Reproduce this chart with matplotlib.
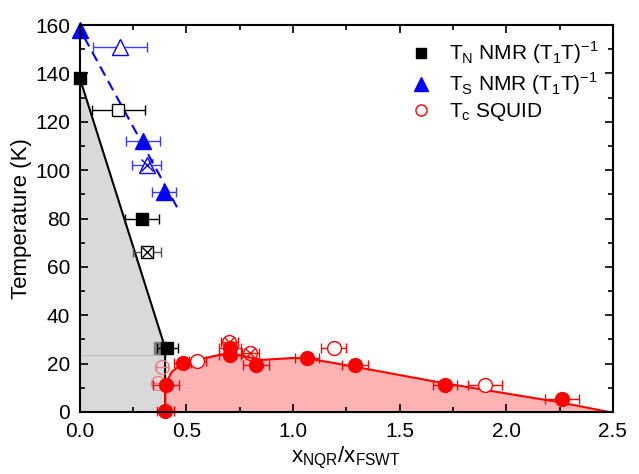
import matplotlib
matplotlib.use('Agg')
import matplotlib.pyplot as plt
from matplotlib.ticker import MultipleLocator

plt.rcParams['font.family'] = ['Liberation Sans', 'DejaVu Sans']
plt.rcParams['mathtext.fontset'] = 'custom'
plt.rcParams['mathtext.rm'] = 'Liberation Sans'

# T_N from NMR (filled / open / crossed squares)
tn_x = [0.0, 0.29, 0.41]
tn_y = [138, 80, 26.5]
tn_err = [0.0, 0.08, 0.05]
tn_open_x = [0.18]
tn_open_y = [125]
tn_open_err = [0.125]
tn_cross_x = [0.314]
tn_cross_y = [66]
tn_cross_err = [0.065]

# T_S from NMR (triangles)
ts_x = [0.0, 0.295, 0.394]
ts_y = [158, 112, 91]
ts_err = [0.0, 0.08, 0.058]
ts_open_x = [0.188]
ts_open_y = [151]
ts_open_err = [0.125]
ts_cross_x = [0.314]
ts_cross_y = [102]
ts_cross_err = [0.068]

# Tc SQUID (circles)
tc_x = [0.40, 0.403, 0.483, 0.704, 0.704, 0.826, 1.065, 1.29, 1.712, 2.26]
tc_y = [0.5, 11, 20.3, 26.5, 23.5, 19.4, 22.3, 19.4, 11.2, 5.4]
tc_err = [0.04, 0.06, 0.04, 0.05, 0.05, 0.06, 0.055, 0.06, 0.057, 0.08]
tc_open_x = [0.55, 1.19, 1.90]
tc_open_y = [21, 26.4, 11.2]
tc_open_err = [0.04, 0.057, 0.08]
tc_cross_x = [0.70, 0.80]
tc_cross_y = [29.0, 24.3]
tc_cross_err = [0.04, 0.04]
tc_faded_x = [0.366, 0.385]
tc_faded_y = [12, 18.6]

# guide lines
afm_x = [0.0, 0.0, 0.40, 0.40]
afm_y = [0, 138, 26.5, 0]
ts_line_x = [0.02, 0.46]
ts_line_y = [155, 84]
sc_x = [0.40, 0.40, 0.43, 0.48, 0.6, 0.7, 0.85, 1.0, 1.06, 1.3, 1.7, 2.25, 2.48]
sc_y = [0, 11, 16.5, 20, 22.5, 24.5, 21.5, 22.3, 22.3, 18.5, 12, 4, 0]

fig, ax = plt.subplots(figsize=(6.39, 4.74), dpi=100)
fig.subplots_adjust(left=0.125, right=0.959, bottom=0.131, top=0.947)

ax.fill(afm_x, afm_y, color='#d9d9d9', zorder=1)
ax.plot([0, 0.40], [23.5, 23.5], color='#bfbfbf', lw=0.8, zorder=1)
ax.plot(afm_x[1:], afm_y[1:], color='black', lw=1.5, zorder=2)
ax.fill_between(sc_x, sc_y, 0, color='#ffb3b3', zorder=1)
ax.plot(sc_x, sc_y, color='red', lw=1.5, zorder=2)
ax.plot(ts_line_x, ts_line_y, color='blue', lw=1.5, ls=(0, (5, 3)), zorder=2)

ebkw = dict(ls='none', capsize=3.5, elinewidth=1, capthick=1, zorder=4)

# squares
ax.errorbar(tn_x, tn_y, xerr=tn_err, marker='s', ms=9, color='black', ecolor='black',
            label=r'T$_\mathregular{N}$ NMR (T$_\mathregular{1}$T)$^\mathregular{-1}$', **ebkw)
ax.errorbar(tn_open_x, tn_open_y, xerr=tn_open_err, marker='s', ms=9, mfc='white',
            mec='black', ecolor='black', **ebkw)
ax.errorbar(tn_cross_x, tn_cross_y, xerr=tn_cross_err, marker='s', ms=9, mfc='white',
            mec='black', ecolor='#555555', **ebkw)
ax.plot(tn_cross_x, tn_cross_y, marker='x', ms=7, color='black', ls='none', zorder=5)
ax.plot([0.375], [26.5], marker='s', ms=9, color='#808080', ls='none', zorder=3)

# triangles
ax.errorbar(ts_x, ts_y, xerr=ts_err, marker='^', ms=11, color='blue', ecolor='#3b3bff',
            label=r'T$_\mathregular{S}$ NMR (T$_\mathregular{1}$T)$^\mathregular{-1}$', **ebkw)
ax.errorbar(ts_open_x, ts_open_y, xerr=ts_open_err, marker='^', ms=11, mfc='white',
            mec='blue', ecolor='#3b3bff', **ebkw)
ax.errorbar(ts_cross_x, ts_cross_y, xerr=ts_cross_err, marker='^', ms=11, mfc='white',
            mec='blue', ecolor='#3b3bff', **ebkw)
ax.plot(ts_cross_x, ts_cross_y, marker='x', ms=8, color='blue', ls='none', zorder=5)

# circles
ax.errorbar(tc_x, tc_y, xerr=tc_err, marker='o', ms=10, color='red', ecolor='red', **ebkw)
ax.errorbar(tc_open_x, tc_open_y, xerr=tc_open_err, marker='o', ms=10, mfc='white',
            mec='red', ecolor='red', label=r'T$_\mathregular{c}$ SQUID', **ebkw)
ax.errorbar(tc_cross_x, tc_cross_y, xerr=tc_cross_err, marker='o', ms=10, mfc='none',
            mec='red', ecolor='red', **ebkw)
ax.plot(tc_cross_x, tc_cross_y, marker='x', ms=7, color='red', ls='none', zorder=5)
ax.errorbar(tc_faded_x, tc_faded_y, xerr=0.03, marker='o', ms=10, mfc='none',
            mec='#f08080', ecolor='#f08080', ls='none', capsize=3, elinewidth=1, zorder=3)

# let markers sitting on the axes show in full
for art in ax.lines + ax.collections:
    art.set_clip_on(False)

ax.set_xlim(0, 2.5)
ax.set_ylim(0, 160)
ax.xaxis.set_major_locator(MultipleLocator(0.5))
ax.xaxis.set_minor_locator(MultipleLocator(0.25))
ax.yaxis.set_major_locator(MultipleLocator(20))
ax.yaxis.set_minor_locator(MultipleLocator(10))
ax.xaxis.set_major_formatter(plt.FormatStrFormatter('%.1f'))
ax.tick_params(which='both', direction='in', top=True, right=True, labelsize=15, width=1.2)
ax.tick_params(which='major', length=6, pad=7)
ax.tick_params(which='minor', length=3.5)
for sp in ax.spines.values():
    sp.set_linewidth(1.5)
    sp.set_zorder(6)

ax.set_xlabel(r'x$_\mathregular{NQR}$/x$_\mathregular{FSWT}$', fontsize=16, labelpad=3)
ax.set_ylabel('Temperature (K)', fontsize=16, labelpad=2)

handles, labels = ax.get_legend_handles_labels()
leg = ax.legend([h[0] for h in handles], labels, loc='upper right', frameon=False,
                fontsize=15, handletextpad=0.7, borderaxespad=0.3, labelspacing=0.2,
                handlelength=1.2)
for h, m in zip(leg.legend_handles, [7, 10, 8]):
    h.set_markersize(m)

fig.savefig('out.png', dpi=100)
